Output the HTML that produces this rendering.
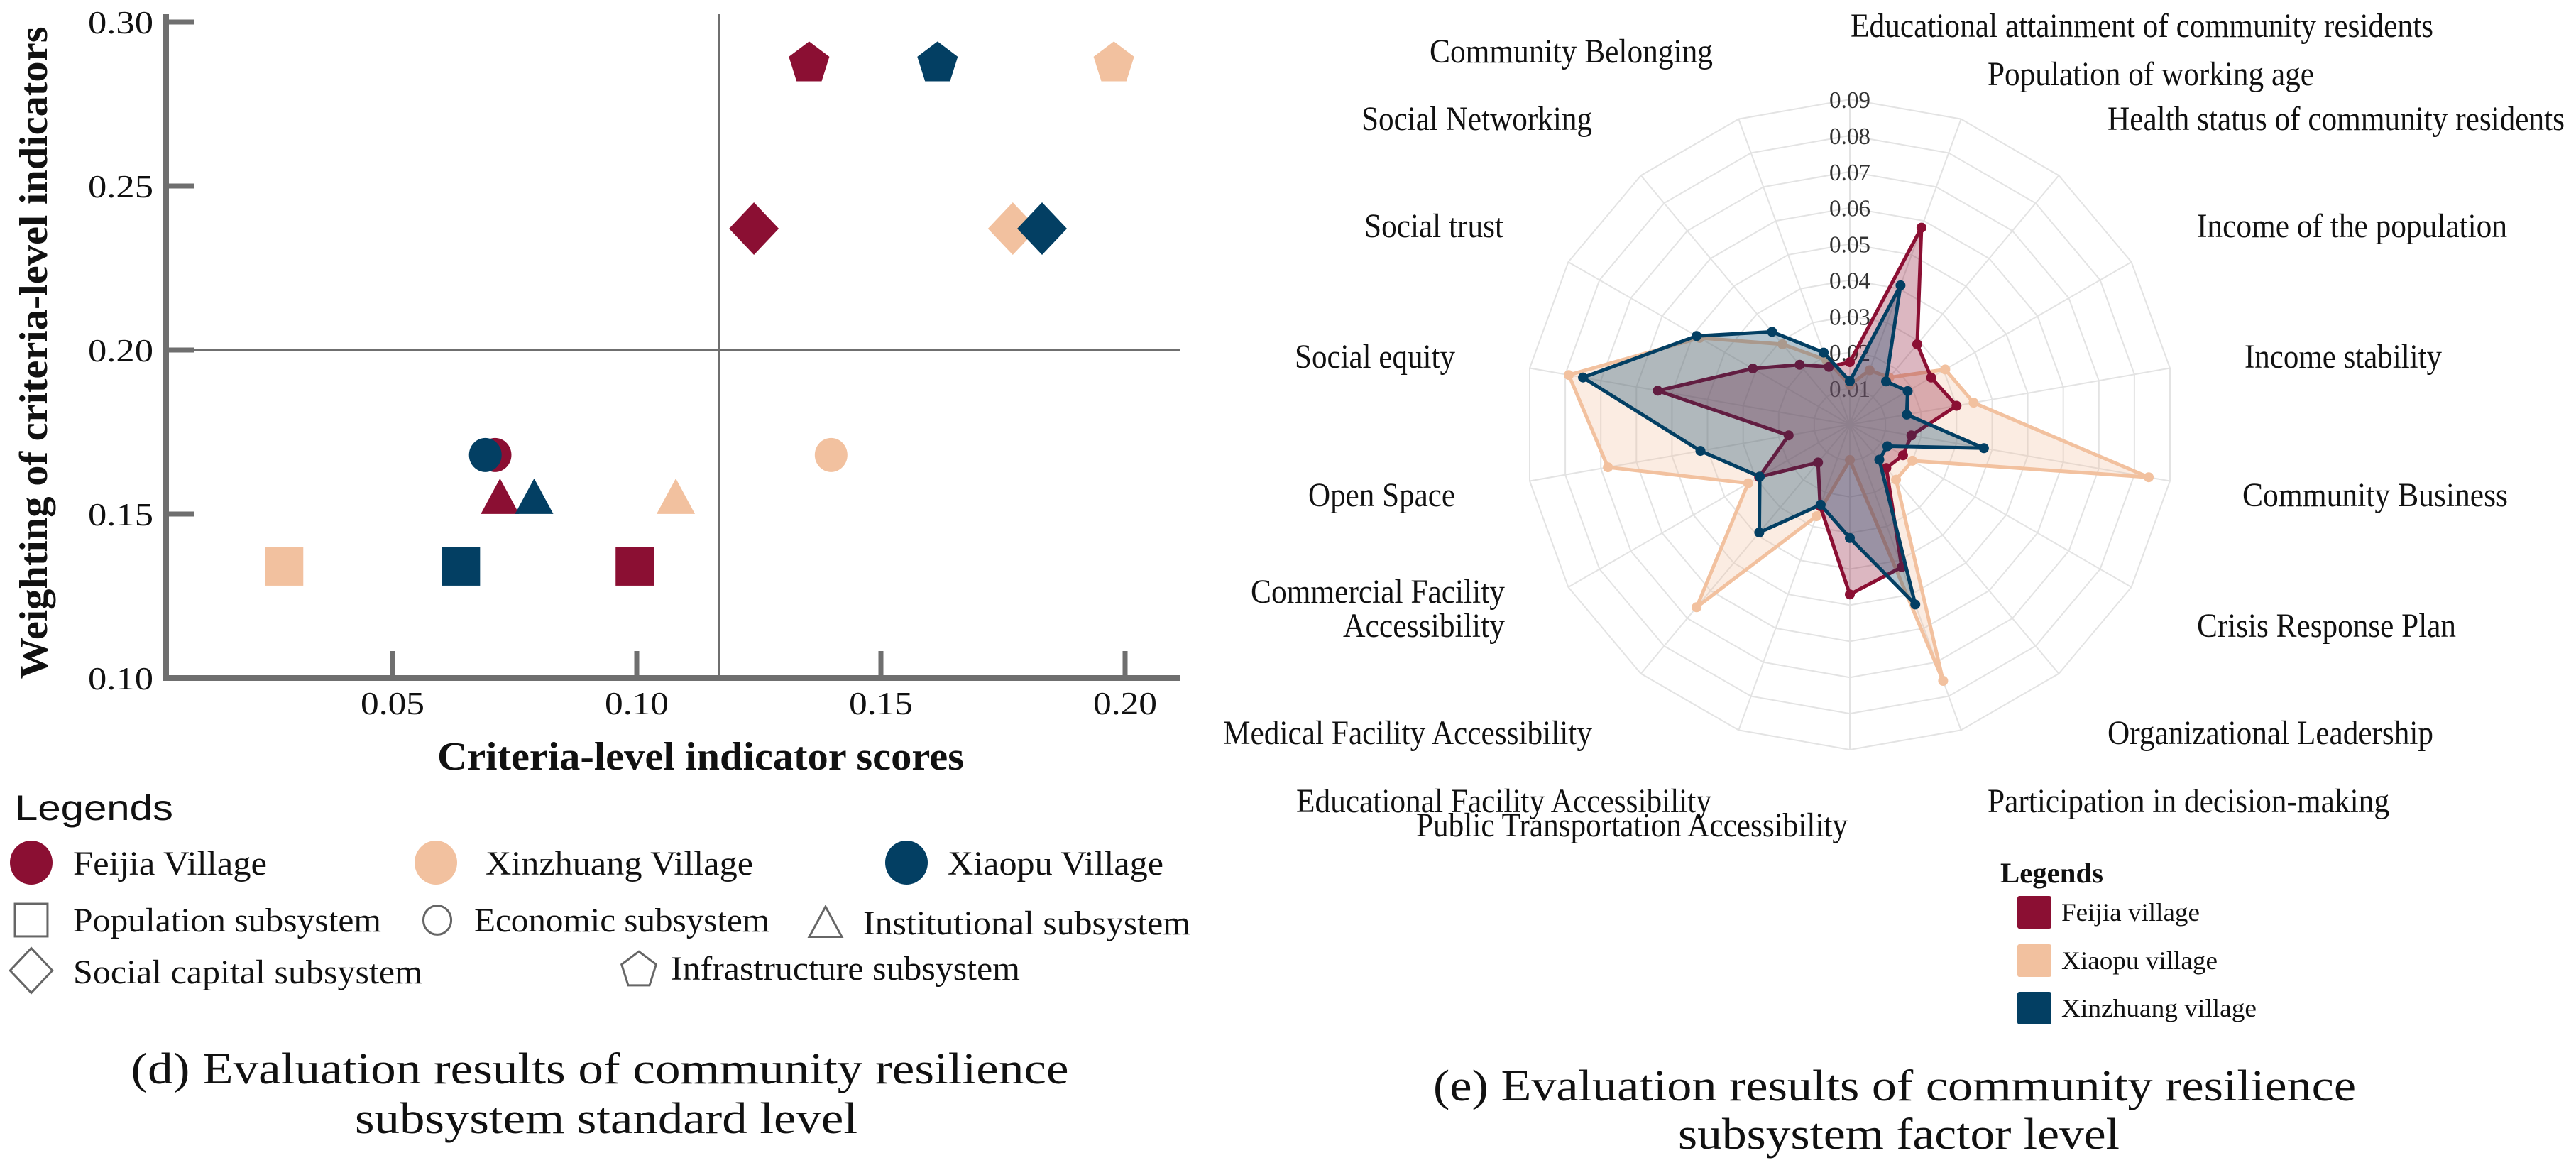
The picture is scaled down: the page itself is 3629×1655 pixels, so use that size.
<!DOCTYPE html>
<html><head><meta charset="utf-8"><title>Community resilience evaluation</title>
<style>html,body{margin:0;padding:0;background:#fff}svg{display:block}text{font-family:"Liberation Serif",serif;fill:#111}</style>
</head><body>
<svg id="fig" xmlns="http://www.w3.org/2000/svg" width="3629" height="1655" viewBox="0 0 3629 1655">
<g id="scatter"></g>
<g id="radar"></g>
</svg>
<script>
// ---------- Scatter data ----------
const subsystems = ['Population subsystem','Economic subsystem','Institutional subsystem','Social capital subsystem','Infrastructure subsystem'];
const weights = [0.134, 0.168, 0.155, 0.237, 0.288];
const feijiaScores = [0.0996, 0.071, 0.072, 0.124, 0.1353];
const xinzhuangScores = [0.0278, 0.1398, 0.108, 0.177, 0.1977];
const xiaopuScores = [0.064, 0.069, 0.079, 0.183, 0.1616];
const xTicks = [0.05, 0.10, 0.15, 0.20];
const xTickLabels = ['0.05','0.10','0.15','0.20'];
const yTicks = [0.10, 0.15, 0.20, 0.25, 0.30];
const yTickLabels = ['0.10','0.15','0.20','0.25','0.30'];
const refX = 0.1169;
const refY = 0.20;

// ---------- Radar data ----------
const radarAxes = ['Educational attainment of community residents','Population of working age','Health status of community residents','Income of the population','Income stability','Community Business','Crisis Response Plan','Organizational Leadership','Participation in decision-making','Public Transportation Accessibility','Educational Facility Accessibility','Medical Facility Accessibility','Commercial Facility Accessibility','Open Space','Social equity','Social trust','Social Networking','Community Belonging'];
const feijiaFactor = [0.0173,0.058,0.029,0.026,0.030,0.0173,0.017,0.0157,0.042,0.047,0.024,0.0137,0.029,0.0172,0.054,0.031,0.0216,0.017];
const xiaopuFactor = [0.011,0.016,0.017,0.0305,0.0348,0.084,0.020,0.0199,0.0755,0.0098,0.027,0.066,0.0325,0.068,0.079,0.048,0.029,0.019];
const xinzhuangFactor = [0.012,0.041,0.0156,0.0185,0.016,0.0377,0.012,0.0127,0.053,0.0314,0.0236,0.039,0.0288,0.042,0.075,0.049,0.0335,0.0212];
const radialTicks = [0.01,0.02,0.03,0.04,0.05,0.06,0.07,0.08,0.09];
const radialTickLabels = ['0.01','0.02','0.03','0.04','0.05','0.06','0.07','0.08','0.09'];

const NS = 'http://www.w3.org/2000/svg';
const RED = '#8b0f33', ORANGE = '#f2c19f', BLUE = '#033f63', AX = '#6f6f6f';
function mk(parent, tag, attrs, txt) {
  const e = document.createElementNS(NS, tag);
  for (const k in attrs) e.setAttribute(k, attrs[k]);
  if (txt !== undefined) e.textContent = txt;
  parent.appendChild(e);
  return e;
}
function txt(parent, x, y, s, size, len, anchor, extra) {
  const a = {x: x, y: y, 'font-size': size, 'text-anchor': anchor || 'start'};
  if (len) { a.textLength = len; a.lengthAdjust = 'spacingAndGlyphs'; }
  if (extra) for (const k in extra) a[k] = extra[k];
  return mk(parent, 'text', a, s);
}

// ================= SCATTER =================
const sc = document.getElementById('scatter');
const xs = v => 553 + (v - 0.05) * 6880;
const ys = v => 955 - (v - 0.10) * 4620;
const xL = 234, xR = 1663, yT = 20, yB = 955;

// reference lines
const vline = mk(sc, 'line', {x1: xs(refX), y1: yT, x2: xs(refX), y2: yB, stroke: AX, 'stroke-width': 3});


const hline = mk(sc, 'line', {x1: xL, y1: ys(refY), x2: xR, y2: ys(refY), stroke: AX, 'stroke-width': 3});



// axes
const yAxis = mk(sc, 'line', {x1: xL, y1: yT, x2: xL, y2: yB + 4, stroke: AX, 'stroke-width': 8});


const xAxis = mk(sc, 'line', {x1: xL - 4, y1: yB, x2: xR, y2: yB, stroke: AX, 'stroke-width': 8});



xTicks.forEach((v, i) => {
  const t = mk(sc, 'line', {x1: xs(v), y1: yB, x2: xs(v), y2: yB - 38, stroke: AX, 'stroke-width': 7});
  
  
  const l = txt(sc, xs(v), 1006, xTickLabels[i], 46, 90, 'middle');
  
  
});
yTicks.forEach((v, i) => {
  const t = mk(sc, 'line', {x1: xL, y1: ys(v), x2: xL + 40, y2: ys(v), stroke: AX, 'stroke-width': 7});
  
  
  const l = txt(sc, 216, ys(v) + 16, yTickLabels[i], 46, 92, 'end');
  
  
});
const xTitle = txt(sc, 987, 1084, 'Criteria-level indicator scores', 56, 742, 'middle', {'font-weight': 'bold'});


const yTitle = txt(sc, 0, 0, 'Weighting of criteria-level indicators', 56, 919, 'middle', {'font-weight': 'bold', transform: 'translate(66,497) rotate(-90)'});



function shape(parent, kind, cx, cy, fill, stroke, scale) {
  const s = scale || 1;
  let e;
  if (kind === 0) e = mk(parent, 'rect', {x: cx - 27 * s, y: cy - 27 * s, width: 54 * s, height: 54 * s});
  else if (kind === 1) e = mk(parent, 'ellipse', {cx: cx, cy: cy, rx: 23 * s, ry: 24 * s});
  else if (kind === 2) e = mk(parent, 'polygon', {points: `${cx},${cy - 27 * s} ${cx + 27 * s},${cy + 23 * s} ${cx - 27 * s},${cy + 23 * s}`});
  else if (kind === 3) e = mk(parent, 'polygon', {points: `${cx},${cy - 37 * s} ${cx + 35 * s},${cy} ${cx},${cy + 37 * s} ${cx - 35 * s},${cy}`});
  else {
    const pts = [];
    for (let k = 0; k < 5; k++) {
      const a = -Math.PI / 2 + k * 2 * Math.PI / 5;
      pts.push((cx + 30 * s * Math.cos(a)).toFixed(1) + ',' + (cy + 31 * s * Math.sin(a) + 3 * s).toFixed(1));
    }
    e = mk(parent, 'polygon', {points: pts.join(' ')});
  }
  e.setAttribute('fill', fill);
  if (stroke) { e.setAttribute('stroke', stroke); e.setAttribute('stroke-width', 3); }
  return e;
}

const villages = [[feijiaScores, RED, 'feijia'], [xinzhuangScores, ORANGE, 'xinzhuang'], [xiaopuScores, BLUE, 'xiaopu']];
villages.forEach(([arr, col, nm]) => {
  arr.forEach((v, i) => {
    const m = shape(sc, i, xs(v), ys(weights[i]), col);
    
    
  });
});

// scatter legend
const lg = mk(sc, 'g', {});


const lgT = txt(lg, 21, 1155, 'Legends', 50, 223, 'start', {style: 'font-family:"Liberation Sans",sans-serif'});


const vilLeg = [[44, 103, 273, 'Feijia Village', RED], [614, 684, 377, 'Xinzhuang Village', ORANGE], [1277, 1335, 304, 'Xiaopu Village', BLUE]];
vilLeg.forEach(([cx, tx, w, s, col]) => {
  const c = mk(lg, 'ellipse', {cx: cx, cy: 1215, rx: 30, ry: 31, fill: col});
  
  
  const t = txt(lg, tx, 1232, s, 48, w);
  
  
});
const shpLeg = [[0, 44, 1296, 103, 1312, 434], [1, 616, 1296, 668, 1312, 416], [2, 1163, 1300, 1216, 1316, 461], [3, 44, 1367, 103, 1385, 492], [4, 900, 1364, 945, 1380, 492]];
shpLeg.forEach(([k, cx, cy, tx, ty, w], i) => {
  const e = shape(lg, k, cx, cy, 'none', '#666', 0.85);
  
  
  const t = txt(lg, tx, ty, subsystems[i], 48, w);
  
  
});
const capD1 = txt(sc, 845, 1526, '(d) Evaluation results of community resilience', 62, 1321, 'middle');


const capD2 = txt(sc, 854, 1596, 'subsystem standard level', 62, 708, 'middle');



// ================= RADAR =================
const rd = document.getElementById('radar');
const CX = 2606, CY = 598, RMAX = 458, VMAX = 0.09;
const N = radarAxes.length;
const rr = v => v / VMAX * RMAX;
const pt = (i, v) => {
  const a = i * 2 * Math.PI / N;
  return [CX + rr(v) * Math.sin(a), CY - rr(v) * Math.cos(a)];
};
// grid
radialTicks.forEach(v => {
  const pts = [];
  for (let i = 0; i < N; i++) pts.push(pt(i, v).map(n => n.toFixed(1)).join(','));
  const g = mk(rd, 'polygon', {points: pts.join(' '), fill: 'none', stroke: '#e3e3e3', 'stroke-width': 2});
  
  
});
for (let i = 0; i < N; i++) {
  const p = pt(i, VMAX);
  const s = mk(rd, 'line', {x1: CX, y1: CY, x2: p[0], y2: p[1], stroke: '#e3e3e3', 'stroke-width': 2});
  
  
}
radialTicks.forEach((v, i) => {
  const t = txt(rd, CX, CY - rr(v) + 12, radialTickLabels[i], 34, 58, 'middle', {style: 'fill:#333'});
  
  
});
const series = [[xiaopuFactor, ORANGE, 'xiaopu'], [feijiaFactor, RED, 'feijia'], [xinzhuangFactor, BLUE, 'xinzhuang']];
series.forEach(([arr, col, nm]) => {
  const pts = arr.map((v, i) => pt(i, v).map(n => n.toFixed(1)).join(',')).join(' ');
  const poly = mk(rd, 'polygon', {points: pts, fill: col, 'fill-opacity': 0.3, stroke: col, 'stroke-width': 5, 'stroke-linejoin': 'round'});
  
  
  arr.forEach((v, i) => {
    const p = pt(i, v);
    const d = mk(rd, 'circle', {cx: p[0].toFixed(1), cy: p[1].toFixed(1), r: 7, fill: col});
    
    
  });
});
// axis labels (layout positions)
const labelPos = [[2607,821,37],[2800,460,105],[2969,644,168],[3095,437,319],[3162,278,503],[3159,374,698],[3095,365,882],[2969,459,1033],[2800,566,1129],[1995,608,1163],[1826,585,1129],[1723,520,1033],[1762,358,834],[1843,207,698],[1824,226,503],[1922,196,319],[1918,325,168],[2014,399,73]];
radarAxes.forEach((s, i) => {
  const [x, w, y] = labelPos[i];
  let t;
  if (i === 12) {
    t = txt(rd, x, y + 15, 'Commercial Facility', 48, w);
    const t2 = txt(rd, 2120, 882 + 15, 'Accessibility', 48, 228, 'end');
    
    
  } else t = txt(rd, x, y + 15, s, 48, w);
  
  
});
// radar legend
const rl = mk(rd, 'g', {});


const rlT = txt(rl, 2818, 1243, 'Legends', 40, 145, 'start', {'font-weight': 'bold'});


const rItems = [['Feijia village', RED, 1285, 195], ['Xiaopu village', ORANGE, 1353, 220], ['Xinzhuang village', BLUE, 1420, 275]];
rItems.forEach(([s, col, y, w]) => {
  const r = mk(rl, 'rect', {x: 2842, y: y - 23, width: 48, height: 46, rx: 3, fill: col});
  
  
  const t = txt(rl, 2904, y + 12, s, 36, w);
  
  
});
const capE1 = txt(rd, 2669, 1550, '(e) Evaluation results of community resilience', 62, 1300, 'middle');


const capE2 = txt(rd, 2675, 1618, 'subsystem factor level', 62, 622, 'middle');


</script>
</body></html>
